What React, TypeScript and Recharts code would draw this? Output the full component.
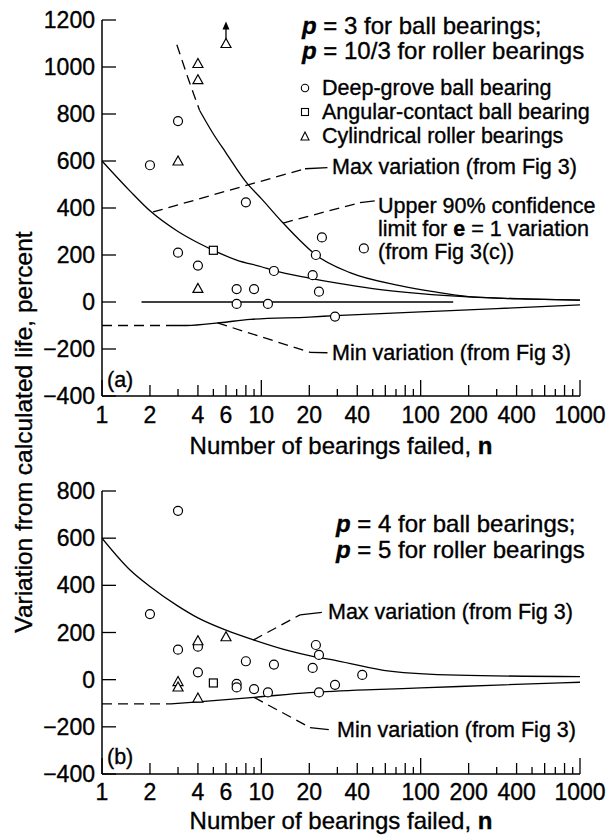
import React from 'react'
import { ComposedChart, Line, Scatter, XAxis, YAxis } from 'recharts'

const FONT = '"Liberation Sans", Arial, sans-serif'

const X_TICKS = [1, 2, 3, 4, 5, 6, 7, 8, 9, 10, 20, 30, 40, 50, 60, 70, 80, 90, 100, 200, 300, 400, 500, 600, 700, 800, 900, 1000]
const X_LABELS = [1, 2, 4, 6, 10, 20, 40, 100, 200, 400, 1000]
const Y_TICKS_A = [-400, -200, 0, 200, 400, 600, 800, 1000, 1200]
const Y_TICKS_B = [-400, -200, 0, 200, 400, 600, 800]

// (a) p = 3 / 10/3
const circlesA = [
  { n: 2, v: 582 }, { n: 3, v: 770 }, { n: 8, v: 424 }, { n: 3, v: 210 }, { n: 4, v: 155 },
  { n: 7, v: 55 }, { n: 9, v: 55 }, { n: 7, v: -8 }, { n: 11, v: -8 }, { n: 12, v: 132 },
  { n: 21, v: 114 }, { n: 22, v: 200 }, { n: 24, v: 275 }, { n: 44, v: 228 }, { n: 23, v: 44 },
  { n: 29, v: -62 },
]
const squaresA = [{ n: 5, v: 220 }]
const trianglesA = [{ n: 3, v: 600 }, { n: 4, v: 1015 }, { n: 4, v: 946 }, { n: 6, v: 1100 }, { n: 4, v: 58 }]
const arrowShaftA = [{ n: 6, v: 1118 }, { n: 6, v: 1165 }]
const arrowTipA = [{ n: 6, v: 1194 }]

const maxA = [
  { n: 1, v: 600 }, { n: 1.5, v: 472 }, { n: 2, v: 388 }, { n: 3, v: 300 }, { n: 4, v: 252 },
  { n: 5, v: 220 }, { n: 7, v: 178 }, { n: 10, v: 150 }, { n: 12, v: 134 }, { n: 20, v: 102 },
  { n: 30, v: 80 }, { n: 50, v: 57 }, { n: 100, v: 36 }, { n: 200, v: 22 }, { n: 500, v: 12 }, { n: 1000, v: 8 },
]
const upperDashA = [{ n: 2.95, v: 1095 }, { n: 3.5, v: 945 }, { n: 4.1, v: 815 }]
const upperA = [
  { n: 4.1, v: 815 }, { n: 5, v: 715 }, { n: 6, v: 635 }, { n: 8.1, v: 507 }, { n: 10, v: 440 },
  { n: 13.7, v: 336 }, { n: 17, v: 270 }, { n: 22, v: 200 }, { n: 36, v: 125 }, { n: 74, v: 70 },
  { n: 120, v: 44 }, { n: 200, v: 23 }, { n: 500, v: 12 }, { n: 1000, v: 8 },
]
const zeroA = [{ n: 1.77, v: 0 }, { n: 160, v: 0 }]
const minDashA = [{ n: 1, v: -100 }, { n: 2.67, v: -100 }]
const minA = [
  { n: 2.67, v: -100 }, { n: 3.4, v: -100 }, { n: 5.5, v: -88 }, { n: 8.5, v: -74 }, { n: 20, v: -64 },
  { n: 29, v: -58 }, { n: 100, v: -42 }, { n: 300, v: -28 }, { n: 1000, v: -12 },
]
const maxLeadDashA = [{ n: 2.09, v: 383 }, { n: 18.8, v: 567 }]
const maxLeadA = [{ n: 18.8, v: 567 }, { n: 26, v: 572 }]
const upperLeadDashA = [{ n: 13.7, v: 336 }, { n: 41.6, v: 423 }]
const upperLeadA = [{ n: 41.6, v: 423 }, { n: 51.5, v: 430 }]
const minLeadDashA = [{ n: 5.3, v: -89 }, { n: 20.2, v: -214 }]
const minLeadA = [{ n: 20.2, v: -214 }, { n: 26, v: -216 }]

// (b) p = 4 / 5
const circlesB = [
  { n: 3, v: 716 }, { n: 2, v: 278 }, { n: 4, v: 140 }, { n: 3, v: 127 }, { n: 8, v: 78 },
  { n: 12, v: 64 }, { n: 4, v: 31 }, { n: 7, v: -18 }, { n: 7, v: -33 }, { n: 9, v: -40 },
  { n: 11, v: -54 }, { n: 22, v: 147 }, { n: 23, v: 105 }, { n: 21, v: 50 }, { n: 43, v: 20 },
  { n: 29, v: -22 }, { n: 23, v: -54 },
]
const squaresB = [{ n: 5, v: -14 }]
const trianglesB = [{ n: 4, v: 165 }, { n: 6, v: 182 }, { n: 3, v: -8 }, { n: 3, v: -31 }, { n: 4, v: -78 }]

const maxB = [
  { n: 1, v: 600 }, { n: 1.5, v: 465 }, { n: 2, v: 395 }, { n: 3, v: 312 }, { n: 4, v: 262 },
  { n: 6, v: 210 }, { n: 9, v: 168 }, { n: 15, v: 122 }, { n: 20, v: 102 }, { n: 30, v: 80 },
  { n: 64, v: 36 }, { n: 170, v: 19 }, { n: 1000, v: 13 },
]
const minDashB = [{ n: 1, v: -103 }, { n: 2.67, v: -103 }]
const minB = [
  { n: 2.67, v: -103 }, { n: 4, v: -94 }, { n: 9, v: -75 }, { n: 20, v: -55 }, { n: 50, v: -42 },
  { n: 100, v: -35 }, { n: 300, v: -23 }, { n: 1000, v: -11 },
]
const maxLeadDashB = [{ n: 8.9, v: 168 }, { n: 17.5, v: 275 }]
const maxLeadB = [{ n: 17.5, v: 275 }, { n: 24, v: 285 }]
const minLeadDashB = [{ n: 9, v: -75 }, { n: 20.2, v: -203 }]
const minLeadB = [{ n: 20.2, v: -203 }, { n: 26.5, v: -212 }]

const tickLen = (n: number) => {
  const lead = Math.round(n / Math.pow(10, Math.floor(Math.log10(n) + 1e-9)))
  return lead === 1 ? 16 : lead % 2 === 0 ? 11 : 7
}

const ink = { fill: '#000', stroke: '#000', strokeWidth: 0.35, fontFamily: FONT }

function XTick({ x, y, payload, dy }: any) {
  const n = payload.value
  return (
    <g>
      <line x1={x} y1={y} x2={x} y2={y - tickLen(n)} stroke="#000" strokeWidth={1.3} />
      {X_LABELS.includes(n) && (
        <text {...ink} x={x} y={y + dy} textAnchor="middle" dominantBaseline="central" fontSize={23}>
          {n}
        </text>
      )}
    </g>
  )
}

function YTick({ x, y, payload }: any) {
  const v = payload.value
  return (
    <g>
      <line x1={x} y1={y} x2={x + 14} y2={y} stroke="#000" strokeWidth={1.3} />
      <text {...ink} x={x - 7} y={y} textAnchor="end" dominantBaseline="central" fontSize={23}>
        {v < 0 ? '\u2212' + Math.abs(v) : v}
      </text>
    </g>
  )
}

const Circle = (p: any) => <circle cx={p.cx} cy={p.cy} r={4.5} fill="#fff" stroke="#000" strokeWidth={1.2} />
const Square = (p: any) => <rect x={p.cx - 4} y={p.cy - 4} width={8} height={8} fill="#fff" stroke="#000" strokeWidth={1.2} />
const Triangle = (p: any) => (
  <polygon points={`${p.cx},${p.cy - 5} ${p.cx - 5},${p.cy + 4} ${p.cx + 5},${p.cy + 4}`} fill="#fff" stroke="#000" strokeWidth={1.2} />
)
const ArrowHead = (p: any) => (
  <polygon points={`${p.cx},${p.cy} ${p.cx - 3.5},${p.cy + 8} ${p.cx + 3.5},${p.cy + 8}`} fill="#000" />
)

const curve = (data: any[], key: string, dashed = false, type: any = 'monotone') => (
  <Line
    key={key}
    data={data}
    dataKey="v"
    type={type}
    stroke="#000"
    strokeWidth={1.3}
    strokeDasharray={dashed ? '10 6' : undefined}
    dot={false}
    activeDot={false}
    isAnimationActive={false}
  />
)

function axes(yTicks: number[], yDomain: number[], xh: number, dy: number) {
  return [
    <XAxis
      key="x"
      dataKey="n"
      type="number"
      scale="log"
      domain={[1, 1000]}
      allowDataOverflow
      ticks={X_TICKS}
      interval={0}
      height={xh}
      tickLine={false}
      tickSize={0}
      tickMargin={0}
      axisLine={{ stroke: '#000', strokeWidth: 1.5 }}
      tick={(p: any) => <XTick {...p} dy={dy} />}
    />,
    <YAxis
      key="y"
      dataKey="v"
      type="number"
      domain={yDomain}
      allowDataOverflow
      ticks={yTicks}
      interval={0}
      width={102}
      tickLine={false}
      tickSize={0}
      tickMargin={0}
      axisLine={{ stroke: '#000', strokeWidth: 1.5 }}
      tick={(p: any) => <YTick {...p} />}
    />,
  ]
}

const txt = { ...ink, dominantBaseline: 'central' as const }
const P = () => <tspan fontWeight="bold" fontStyle="italic">p</tspan>

export default function App() {
  return (
    <div style={{ position: 'absolute', left: 0, top: 0, width: 606, height: 836, background: '#fff' }}>
      <div style={{ position: 'absolute', left: 0, top: 0 }}>
        <ComposedChart width={606} height={450} margin={{ top: 20, right: 26, bottom: 0, left: 0 }}>
          {axes(Y_TICKS_A, [-400, 1200], 54, 19)}
          {curve(maxA, 'maxA')}
          {curve(upperDashA, 'upd', true)}
          {curve(upperA, 'upA')}
          {curve(zeroA, 'zeroA', false, 'linear')}
          {curve(minDashA, 'mdA', true, 'linear')}
          {curve(minA, 'minA')}
          {curve(maxLeadDashA, 'mldA', true, 'linear')}
          {curve(maxLeadA, 'mlA', false, 'linear')}
          {curve(upperLeadDashA, 'uldA', true, 'linear')}
          {curve(upperLeadA, 'ulA', false, 'linear')}
          {curve(minLeadDashA, 'nldA', true, 'linear')}
          {curve(minLeadA, 'nlA', false, 'linear')}
          {curve(arrowShaftA, 'arrow', false, 'linear')}
          <Scatter data={arrowTipA} shape={ArrowHead} isAnimationActive={false} />
          <Scatter data={circlesA} shape={Circle} isAnimationActive={false} />
          <Scatter data={squaresA} shape={Square} isAnimationActive={false} />
          <Scatter data={trianglesA} shape={Triangle} isAnimationActive={false} />
        </ComposedChart>
      </div>
      <div style={{ position: 'absolute', left: 0, top: 450 }}>
        <ComposedChart width={606} height={386} margin={{ top: 41, right: 26, bottom: 0, left: 0 }}>
          {axes(Y_TICKS_B, [-400, 800], 62, 18)}
          {curve(maxB, 'maxB')}
          {curve(minDashB, 'mdB', true, 'linear')}
          {curve(minB, 'minB')}
          {curve(maxLeadDashB, 'mldB', true, 'linear')}
          {curve(maxLeadB, 'mlB', false, 'linear')}
          {curve(minLeadDashB, 'nldB', true, 'linear')}
          {curve(minLeadB, 'nlB', false, 'linear')}
          <Scatter data={circlesB} shape={Circle} isAnimationActive={false} />
          <Scatter data={squaresB} shape={Square} isAnimationActive={false} />
          <Scatter data={trianglesB} shape={Triangle} isAnimationActive={false} />
        </ComposedChart>
      </div>
      <svg width={606} height={836} style={{ position: 'absolute', left: 0, top: 0, pointerEvents: 'none' }}>
        <text {...txt} x={23} y={432} fontSize={24.5} textAnchor="middle" transform="rotate(-90 23 432)">
          Variation from calculated life, percent
        </text>

        <text {...txt} x={302} y={25} fontSize={24}><P /> = 3 for ball bearings;</text>
        <text {...txt} x={302} y={50} fontSize={24}><P /> = 10/3 for roller bearings</text>
        <circle cx={305} cy={88} r={3.7} fill="#fff" stroke="#000" strokeWidth={1.1} />
        <rect x={301.5} y={108.5} width={7} height={7} fill="#fff" stroke="#000" strokeWidth={1.1} />
        <polygon points="305,132 301,140 309,140" fill="#fff" stroke="#000" strokeWidth={1.1} />
        <text {...txt} x={322} y={88} fontSize={21.5}>Deep-grove ball bearing</text>
        <text {...txt} x={322} y={112} fontSize={21.5}>Angular-contact ball bearing</text>
        <text {...txt} x={322} y={136} fontSize={21.5}>Cylindrical roller bearings</text>
        <text {...txt} x={332} y={167} fontSize={21.5}>Max variation (from Fig 3)</text>
        <text {...txt} x={378} y={206} fontSize={21.5}>Upper 90% confidence</text>
        <text {...txt} x={378} y={229} fontSize={21.5}>limit for <tspan fontWeight="bold">e</tspan> = 1 variation</text>
        <text {...txt} x={378} y={252} fontSize={21.5}>(from Fig 3(c))</text>
        <text {...txt} x={332} y={353} fontSize={21.5}>Min variation (from Fig 3)</text>
        <text {...txt} x={107} y={380} fontSize={21.5}>(a)</text>
        <text {...txt} x={341} y={445} fontSize={24} textAnchor="middle">
          Number of bearings failed, <tspan fontWeight="bold">n</tspan>
        </text>

        <text {...txt} x={336} y={523} fontSize={24}><P /> = 4 for ball bearings;</text>
        <text {...txt} x={336} y={549} fontSize={24}><P /> = 5 for roller bearings</text>
        <text {...txt} x={328} y={612} fontSize={21.5}>Max variation (from Fig 3)</text>
        <text {...txt} x={337} y={730} fontSize={21.5}>Min variation (from Fig 3)</text>
        <text {...txt} x={107} y={757} fontSize={21.5}>(b)</text>
        <text {...txt} x={341} y={820} fontSize={24} textAnchor="middle">
          Number of bearings failed, <tspan fontWeight="bold">n</tspan>
        </text>
      </svg>
    </div>
  )
}
